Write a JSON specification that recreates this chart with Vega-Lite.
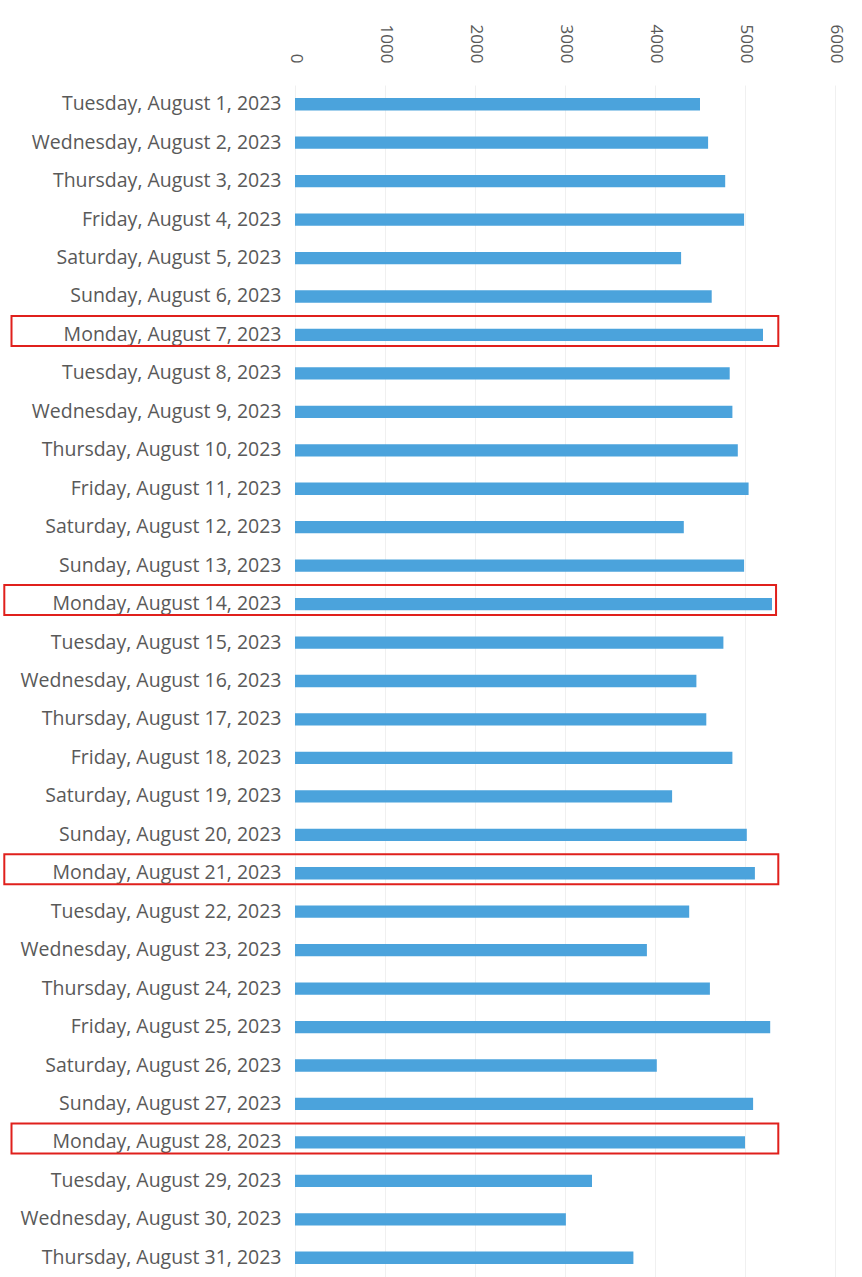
{
  "$schema": "https://vega.github.io/schema/vega-lite/v6.json",
  "width": 540,
  "height": 1192,
  "autosize": "none",
  "padding": {"left": 295, "top": 85, "right": 27, "bottom": 0},
  "background": "white",
  "view": {"stroke": null},
  "datasets": {
    "sales": [
      {"date": "Tuesday, August 1, 2023", "value": 4500},
      {"date": "Wednesday, August 2, 2023", "value": 4590},
      {"date": "Thursday, August 3, 2023", "value": 4780},
      {"date": "Friday, August 4, 2023", "value": 4990},
      {"date": "Saturday, August 5, 2023", "value": 4290},
      {"date": "Sunday, August 6, 2023", "value": 4630},
      {"date": "Monday, August 7, 2023", "value": 5200},
      {"date": "Tuesday, August 8, 2023", "value": 4830},
      {"date": "Wednesday, August 9, 2023", "value": 4860},
      {"date": "Thursday, August 10, 2023", "value": 4920},
      {"date": "Friday, August 11, 2023", "value": 5040},
      {"date": "Saturday, August 12, 2023", "value": 4320},
      {"date": "Sunday, August 13, 2023", "value": 4990},
      {"date": "Monday, August 14, 2023", "value": 5300},
      {"date": "Tuesday, August 15, 2023", "value": 4760},
      {"date": "Wednesday, August 16, 2023", "value": 4460},
      {"date": "Thursday, August 17, 2023", "value": 4570},
      {"date": "Friday, August 18, 2023", "value": 4860},
      {"date": "Saturday, August 19, 2023", "value": 4190},
      {"date": "Sunday, August 20, 2023", "value": 5020},
      {"date": "Monday, August 21, 2023", "value": 5110},
      {"date": "Tuesday, August 22, 2023", "value": 4380},
      {"date": "Wednesday, August 23, 2023", "value": 3910},
      {"date": "Thursday, August 24, 2023", "value": 4610},
      {"date": "Friday, August 25, 2023", "value": 5280},
      {"date": "Saturday, August 26, 2023", "value": 4020},
      {"date": "Sunday, August 27, 2023", "value": 5090},
      {"date": "Monday, August 28, 2023", "value": 5000},
      {"date": "Tuesday, August 29, 2023", "value": 3300},
      {"date": "Wednesday, August 30, 2023", "value": 3010},
      {"date": "Thursday, August 31, 2023", "value": 3760}
    ],
    "highlights": [
      {"date": "Monday, August 7, 2023", "start": -3150, "end": 5370},
      {"date": "Monday, August 14, 2023", "start": -3230, "end": 5345},
      {"date": "Monday, August 21, 2023", "start": -3230, "end": 5370},
      {"date": "Monday, August 28, 2023", "start": -3150, "end": 5370}
    ]
  },
  "layer": [
    {
      "data": {"name": "sales"},
      "mark": {"type": "bar", "color": "#4ba3dc"},
      "encoding": {
        "y": {
          "field": "date",
          "type": "nominal",
          "sort": null,
          "scale": {"paddingInner": 0.68, "paddingOuter": 0.34},
          "axis": {
            "title": null,
            "ticks": false,
            "domain": false,
            "labelPadding": 14,
            "labelFont": "Open Sans",
            "labelFontSize": 19.5,
            "labelColor": "#595959",
            "labelLimit": 400
          }
        },
        "x": {
          "field": "value",
          "type": "quantitative",
          "scale": {"domain": [0, 6000], "nice": false},
          "axis": {
            "orient": "top",
            "title": null,
            "values": [0, 1000, 2000, 3000, 4000, 5000, 6000],
            "format": "d",
            "labelAngle": 90,
            "labelPadding": 22,
            "ticks": false,
            "domain": false,
            "grid": true,
            "gridColor": "#f0f0f0",
            "gridWidth": 1,
            "labelFont": "Open Sans",
            "labelFontSize": 17,
            "labelColor": "#595959",
            "labelAlign": "right",
            "labelBaseline": "middle"
          }
        }
      }
    },
    {
      "data": {"name": "highlights"},
      "mark": {
        "type": "bar",
        "filled": false,
        "fill": null,
        "stroke": "#e0201c",
        "strokeWidth": 2,
        "height": 30,
        "yOffset": -4,
        "clip": false
      },
      "encoding": {
        "y": {"field": "date", "type": "nominal", "sort": null},
        "x": {"field": "start", "type": "quantitative"},
        "x2": {"field": "end"}
      }
    }
  ]
}
